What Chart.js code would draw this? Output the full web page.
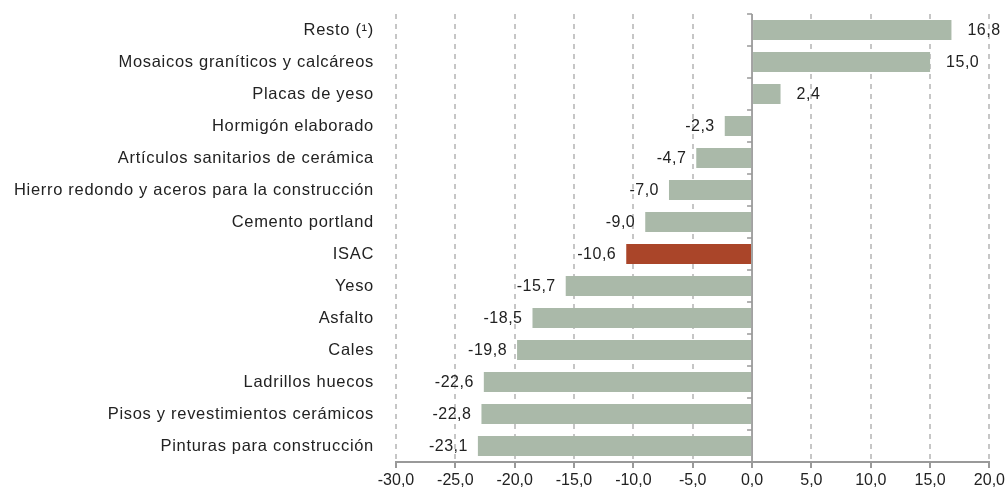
<!DOCTYPE html>
<html>
<head>
<meta charset="utf-8">
<script src="https://cdn.jsdelivr.net/npm/chart.js@4"></script>
<style>
  html, body { margin: 0; padding: 0; background: #fff; }
  #wrap { width: 1008px; height: 492px; }
</style>
</head>
<body>
<div id="wrap"><canvas id="barChart"></canvas></div>
<script>
const categories = [
  'Resto (\u00b9)',
  'Mosaicos graníticos y calcáreos',
  'Placas de yeso',
  'Hormigón elaborado',
  'Artículos sanitarios de cerámica',
  'Hierro redondo y aceros para la construcción',
  'Cemento portland',
  'ISAC',
  'Yeso',
  'Asfalto',
  'Cales',
  'Ladrillos huecos',
  'Pisos y revestimientos cerámicos',
  'Pinturas para construcción'
];
const variation = [16.8, 15.0, 2.4, -2.3, -4.7, -7.0, -9.0, -10.6, -15.7, -18.5, -19.8, -22.6, -22.8, -23.1];
const xTicks = [-30, -25, -20, -15, -10, -5, 0, 5, 10, 15, 20];

const barColor = '#aab9a9';
const isacColor = '#aa4529';
const fontFamily = '"Liberation Sans", Arial, Helvetica, sans-serif';

const fmt = v => v.toFixed(1).replace('.', ',');

// category names, drawn at the y scale tick positions
const categoryLabels = {
  id: 'categoryLabels',
  afterDraw(chart) {
    const {ctx, chartArea, scales} = chart;
    ctx.save();
    ctx.font = '16.5px ' + fontFamily;
    ctx.letterSpacing = '0.7px';
    ctx.fillStyle = '#222';
    ctx.textAlign = 'right';
    ctx.textBaseline = 'middle';
    categories.forEach((c, i) => {
      ctx.fillText(c, chartArea.left - 22, scales.y.getPixelForTick(i));
    });
    ctx.restore();
  }
};

// value labels next to each bar end
const valueLabels = {
  id: 'valueLabels',
  afterDatasetsDraw(chart) {
    const ctx = chart.ctx;
    const meta = chart.getDatasetMeta(0);
    ctx.save();
    ctx.font = '16px ' + fontFamily;
    ctx.letterSpacing = '0.5px';
    ctx.fillStyle = '#222';
    ctx.textBaseline = 'middle';
    meta.data.forEach((bar, i) => {
      const v = variation[i];
      if (v >= 0) {
        ctx.textAlign = 'left';
        ctx.fillText(fmt(v), bar.x + 16, bar.y + 1);
      } else {
        ctx.textAlign = 'right';
        ctx.fillText(fmt(v), bar.x - 10, bar.y + 1);
      }
    });
    ctx.restore();
  }
};

// zero line with small tick marks between categories
const zeroTicks = {
  id: 'zeroTicks',
  afterDatasetsDraw(chart) {
    const {ctx, chartArea, scales} = chart;
    const x0 = scales.x.getPixelForValue(0);
    const n = categories.length;
    const step = (chartArea.bottom - chartArea.top) / n;
    ctx.save();
    ctx.strokeStyle = '#999';
    ctx.lineWidth = 1.5;
    ctx.beginPath();
    for (let i = 0; i <= n; i++) {
      const y = chartArea.top + i * step;
      ctx.moveTo(x0 - 5, y);
      ctx.lineTo(x0, y);
    }
    ctx.moveTo(x0, chartArea.top);
    ctx.lineTo(x0, chartArea.bottom);
    ctx.stroke();
    ctx.restore();
  }
};

const ctx = document.getElementById('barChart').getContext('2d');
const barChart = new Chart(ctx, {
  type: 'bar',
  data: {
    labels: categories,
    datasets: [{
      data: variation,
      backgroundColor: categories.map(c => c === 'ISAC' ? isacColor : barColor),
      borderWidth: 0,
      barPercentage: 0.62,
      categoryPercentage: 1.0
    }]
  },
  options: {
    indexAxis: 'y',
    responsive: true,
    maintainAspectRatio: false,
    animation: false,
    layout: { padding: { top: 14, right: 16, left: 0, bottom: 0 } },
    scales: {
      x: {
        type: 'linear',
        min: -30,
        max: 20,
        afterBuildTicks: scale => { scale.ticks = xTicks.map(v => ({ value: v })); },
        afterFit: scale => { scale.height = 30; },
        ticks: {
          color: '#222',
          font: { family: fontFamily, size: 16 },
          padding: 3,
          maxRotation: 0,
          callback: v => fmt(v)
        },
        grid: {
          color: '#c6c6c6',
          lineWidth: 2,
          drawTicks: true,
          tickLength: 6,
          tickColor: '#999',
          tickWidth: 2,
          tickBorderDash: []
        },
        border: {
          display: true,
          color: '#999',
          width: 2,
          dash: c => (c.type === 'tick' && c.tick && c.tick.value !== 0) ? [5, 5] : []
        }
      },
      y: {
        afterFit: scale => { scale.width = 396; },
        ticks: { display: false },
        grid: { display: false, drawTicks: false },
        border: { display: false }
      }
    },
    plugins: {
      legend: { display: false },
      tooltip: { enabled: false }
    }
  },
  plugins: [categoryLabels, valueLabels, zeroTicks]
});
</script>
</body>
</html>
